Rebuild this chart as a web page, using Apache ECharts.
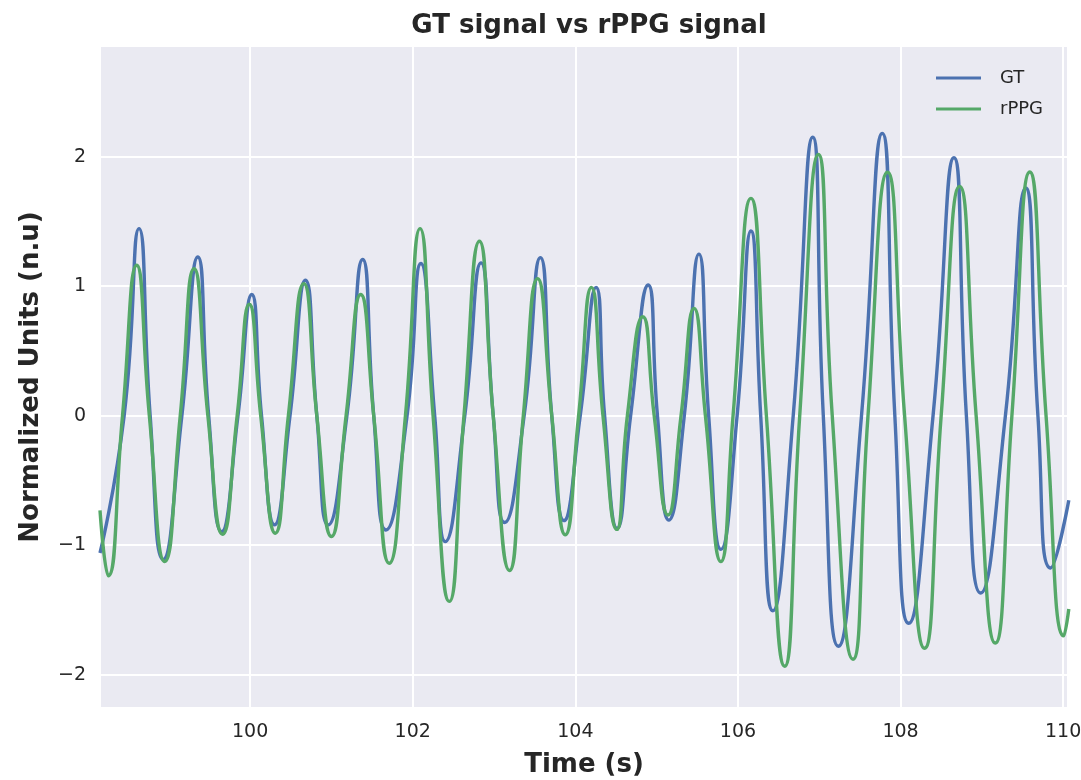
<!DOCTYPE html>
<html>
<head>
<meta charset="utf-8">
<title>GT signal vs rPPG signal</title>
<script src="https://cdn.jsdelivr.net/npm/echarts@6/dist/echarts.min.js"></script>
<style>
  html, body { margin: 0; padding: 0; background: #fff; }
  #chart { width: 1081px; height: 780px; }
</style>
</head>
<body>
<div id="chart"></div>
<script>
// peaks, troughs and zero crossings
const gtTime = [
  98.153, 98.45, 98.633, 98.77, 98.93, 99.16, 99.356, 99.49, 99.65, 99.85,
  100.02, 100.14, 100.30, 100.49, 100.68, 100.82, 100.96, 101.19, 101.384, 101.52,
  101.67, 101.93, 102.10, 102.27, 102.40, 102.64, 102.84, 102.99, 103.13, 103.37,
  103.57, 103.71, 103.86, 104.06, 104.255, 104.36, 104.514, 104.68, 104.896, 105.01,
  105.15, 105.34, 105.52, 105.64, 105.79, 105.99, 106.16, 106.28, 106.43, 106.68,
  106.92, 107.05, 107.235, 107.52, 107.775, 107.93, 108.10, 108.40, 108.657, 108.81,
  108.985, 109.29, 109.54, 109.69, 109.847, 110.07
];
const gtValue = [
  -1.06, 0, 1.445, 0, -1.11, 0, 1.226, 0, -0.895, 0,
  0.936, 0, -0.843, 0, 1.046, 0, -0.843, 0, 1.206, 0,
  -0.882, 0, 1.175, 0, -0.972, 0, 1.18, 0, -0.825, 0,
  1.221, 0, -0.81, 0, 0.991, 0, -0.87, 0, 1.009, 0,
  -0.806, 0, 1.248, 0, -1.032, 0, 1.426, 0, -1.506, 0,
  2.15, 0, -1.78, 0, 2.18, 0, -1.603, 0, 1.992, 0,
  -1.369, 0, 1.758, 0, -1.176, -0.653
];
const ppgTime = [
  98.153, 98.255, 98.43, 98.604, 98.76, 98.95, 99.14, 99.31, 99.48, 99.66,
  99.84, 99.99, 100.13, 100.31, 100.47, 100.66, 100.82, 101.0, 101.18, 101.36,
  101.52, 101.71, 101.91, 102.09, 102.25, 102.45, 102.63, 102.82, 102.99, 103.19,
  103.36, 103.535, 103.71, 103.876, 104.04, 104.198, 104.34, 104.51, 104.64, 104.83,
  104.97, 105.14, 105.30, 105.46, 105.60, 105.79, 105.94, 106.16, 106.35, 106.575,
  106.76, 106.99, 107.16, 107.415, 107.60, 107.84, 108.05, 108.296, 108.50, 108.727,
  108.93, 109.166, 109.37, 109.59, 109.79, 110.01, 110.07
];
const ppgValue = [
  -0.73, -1.236, 0, 1.162, 0, -1.126, 0, 1.136, 0, -0.915,
  0, 0.861, 0, -0.907, 0, 1.02, 0, -0.933, 0, 0.936,
  0, -1.139, 0, 1.445, 0, -1.434, 0, 1.347, 0, -1.195,
  0, 1.059, 0, -0.92, 0, 0.991, 0, -0.878, 0, 0.764,
  0, -0.767, 0, 0.829, 0, -1.127, 0, 1.678, 0, -1.935,
  0, 2.017, 0, -1.88, 0, 1.88, 0, -1.796, 0, 1.771,
  0, -1.755, 0, 1.882, 0, -1.70, -1.493
];

const seriesNames = ["GT", "rPPG"];
const seriesColors = ["#4C72B0", "#55A868"];

const pairs = (xs, ys) => xs.map((x, i) => [x, ys[i]]);
const minus = (v) => (v < 0 ? `\u2212${Math.abs(v)}` : `${v}`);

const font = "DejaVu Sans";
const ink = "#262626";

const chart = echarts.init(document.getElementById("chart"), null, { renderer: "canvas" });

chart.setOption({
  animation: false,
  backgroundColor: "#ffffff",
  title: {
    text: "GT signal vs rPPG signal",
    left: 584,
    top: 8,
    textAlign: "center",
    textStyle: { fontFamily: font, fontSize: 26, fontWeight: "bold", color: ink },
  },
  legend: {
    orient: "vertical",
    left: 936,
    top: 68,
    padding: 0,
    icon: "rect",
    itemWidth: 45,
    itemHeight: 3,
    itemGap: 11,
    data: seriesNames,
    textStyle: { fontFamily: font, fontSize: 18, color: ink, lineHeight: 20, padding: [0, 0, 0, 14] },
  },
  grid: {
    left: 100,
    right: 13,
    top: 46,
    bottom: 72,
    outerBoundsMode: "none",
    containLabel: false,
    show: true,
    backgroundColor: "#EAEAF2",
    borderWidth: 0,
  },
  xAxis: {
    type: "value",
    min: 98.153,
    max: 110.06,
    name: "Time (s)",
    nameLocation: "middle",
    nameGap: 44,
    nameTextStyle: { fontFamily: font, fontSize: 26, fontWeight: "bold", color: ink },
    axisLine: { show: false },
    axisTick: { show: false },
    axisLabel: {
      color: ink,
      fontFamily: font,
      fontSize: 19,
      margin: 15,
      showMinLabel: false,
      showMaxLabel: false,
    },
    splitLine: { lineStyle: { color: "#ffffff", width: 2 } },
  },
  yAxis: {
    type: "value",
    min: -2.257,
    max: 2.855,
    splitNumber: 5,
    name: "Normalized Units (n.u)",
    nameLocation: "middle",
    nameGap: 56,
    nameTextStyle: { fontFamily: font, fontSize: 26, fontWeight: "bold", color: ink },
    axisLine: { show: false },
    axisTick: { show: false },
    axisLabel: {
      color: ink,
      fontFamily: font,
      fontSize: 19,
      margin: 14,
      showMinLabel: false,
      showMaxLabel: false,
      formatter: minus,
    },
    splitLine: { lineStyle: { color: "#ffffff", width: 2 } },
  },
  series: [
    {
      name: seriesNames[0],
      type: "line",
      data: pairs(gtTime, gtValue),
      smooth: 0.55,
      symbol: "none",
      lineStyle: { width: 3.4, color: seriesColors[0] },
      itemStyle: { color: seriesColors[0] },
    },
    {
      name: seriesNames[1],
      type: "line",
      data: pairs(ppgTime, ppgValue),
      smooth: 0.55,
      symbol: "none",
      lineStyle: { width: 3.4, color: seriesColors[1] },
      itemStyle: { color: seriesColors[1] },
    },
  ],
});
</script>
</body>
</html>
